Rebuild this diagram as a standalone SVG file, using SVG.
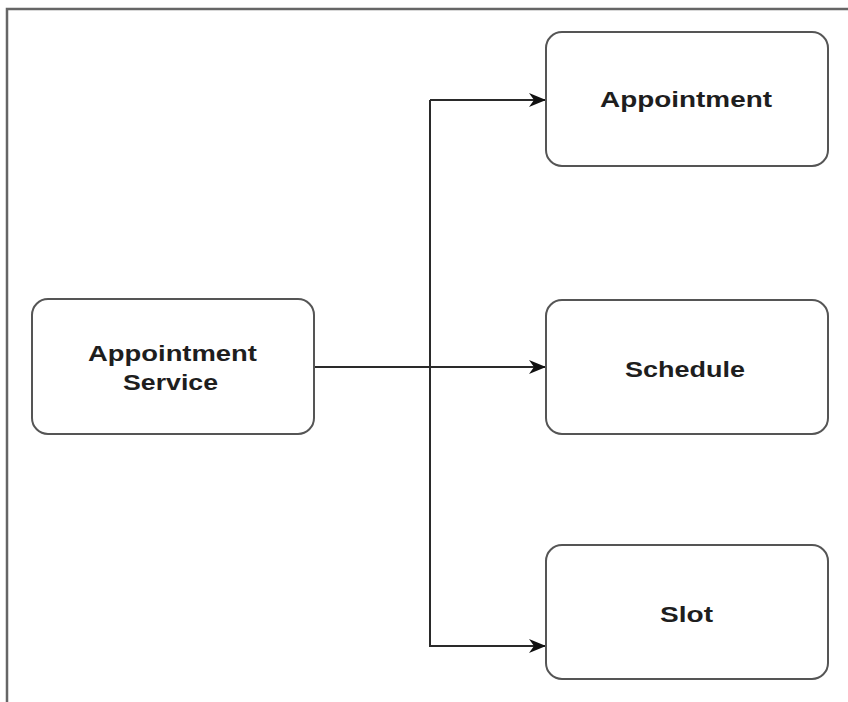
<svg xmlns="http://www.w3.org/2000/svg" width="848" height="702" viewBox="0 0 848 702">
<style>
.box{fill:#fff;stroke:#555;stroke-width:2}
.lbl{font-family:"Liberation Sans",Arial,sans-serif;font-weight:bold;font-size:22px;fill:#1e1e1e}
.edge{fill:none;stroke:#2a2a2a;stroke-width:2}
</style>
<defs>
<marker id="arr" viewBox="0 0 17 14" refX="16" refY="7" markerWidth="17" markerHeight="14" markerUnits="userSpaceOnUse" orient="auto">
<path d="M0,0 L17,7 L0,14 L5,7 Z" fill="#111"/>
</marker>
</defs>
<rect width="848" height="702" fill="#fff"/>
<path d="M7,702 V9 H848" fill="none" stroke="#666" stroke-width="2.5"/>
<g id="connectors">
<path class="edge" d="M314,367 H545" marker-end="url(#arr)"/>
<path class="edge" d="M430,100 H545" marker-end="url(#arr)"/>
<path class="edge" d="M430,100 V646 H545" marker-end="url(#arr)"/>
</g>
<g id="appointment-service">
<rect class="box" x="32" y="299" width="282" height="135" rx="16"/>
<text class="lbl" x="88" y="361" textLength="169" lengthAdjust="spacingAndGlyphs">Appointment</text>
<text class="lbl" x="123" y="390" textLength="95" lengthAdjust="spacingAndGlyphs">Service</text>
</g>
<g id="appointment">
<rect class="box" x="546" y="32" width="282" height="134" rx="16"/>
<text class="lbl" x="600" y="107" textLength="172" lengthAdjust="spacingAndGlyphs">Appointment</text>
</g>
<g id="schedule">
<rect class="box" x="546" y="300" width="282" height="134" rx="16"/>
<text class="lbl" x="625" y="377" textLength="120" lengthAdjust="spacingAndGlyphs">Schedule</text>
</g>
<g id="slot">
<rect class="box" x="546" y="545" width="282" height="134" rx="16"/>
<text class="lbl" x="660" y="622" textLength="53" lengthAdjust="spacingAndGlyphs">Slot</text>
</g>
</svg>
